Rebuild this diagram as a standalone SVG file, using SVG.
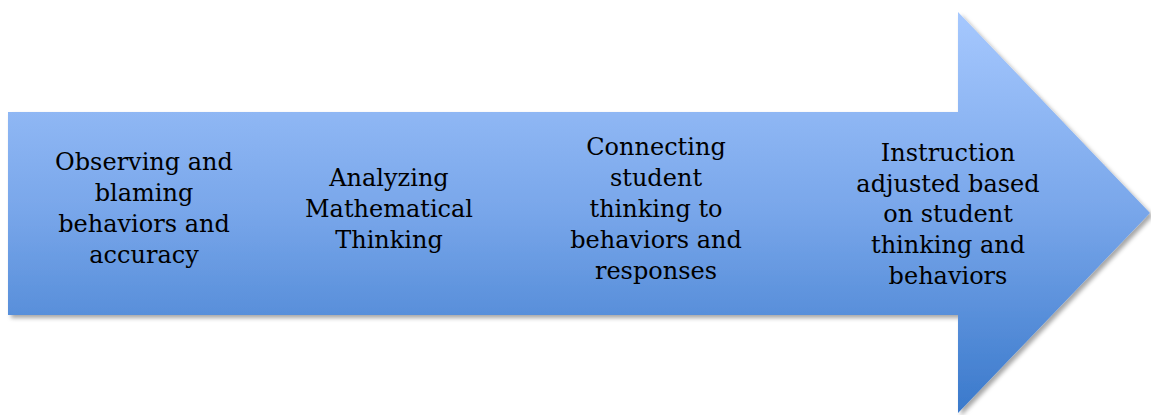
<svg xmlns="http://www.w3.org/2000/svg" width="1151" height="415" viewBox="0 0 1151 415">
<defs>
<linearGradient id="g" gradientUnits="userSpaceOnUse" x1="0" y1="12" x2="0" y2="413">
<stop offset="0" stop-color="#a6c8fe"/>
<stop offset="0.5" stop-color="#78a6ea"/>
<stop offset="1" stop-color="#3a79cb"/>
</linearGradient>
<filter id="sh" x="-5%" y="-5%" width="110%" height="115%">
<feDropShadow dx="3" dy="3" stdDeviation="2" flood-color="#000" flood-opacity="0.35"/>
</filter>
</defs>
<style>
text{font-family:"DejaVu Serif","Liberation Serif",serif;font-size:24px;fill:#000;text-anchor:middle}
</style>
<rect width="1151" height="415" fill="#fff"/>
<g id="arrow">
<path d="M8,112 L958,112 L958,12 L1150,213 L958,413 L958,315 L8,315 Z" fill="url(#g)" filter="url(#sh)"/>
</g>
<g id="node1">
<text x="144" y="170">Observing and</text>
<text x="144" y="201">blaming</text>
<text x="144" y="232">behaviors and</text>
<text x="144" y="263">accuracy</text>
</g>
<g id="node2">
<text x="389" y="186">Analyzing</text>
<text x="389" y="217">Mathematical</text>
<text x="389" y="248">Thinking</text>
</g>
<g id="node3">
<text x="656" y="155">Connecting</text>
<text x="656" y="186">student</text>
<text x="656" y="217">thinking to</text>
<text x="656" y="248">behaviors and</text>
<text x="656" y="279">responses</text>
</g>
<g id="node4">
<text x="948" y="161">Instruction</text>
<text x="948" y="192">adjusted based</text>
<text x="948" y="222">on student</text>
<text x="948" y="253">thinking and</text>
<text x="948" y="284">behaviors</text>
</g>
<g id="connectors"></g>
</svg>
